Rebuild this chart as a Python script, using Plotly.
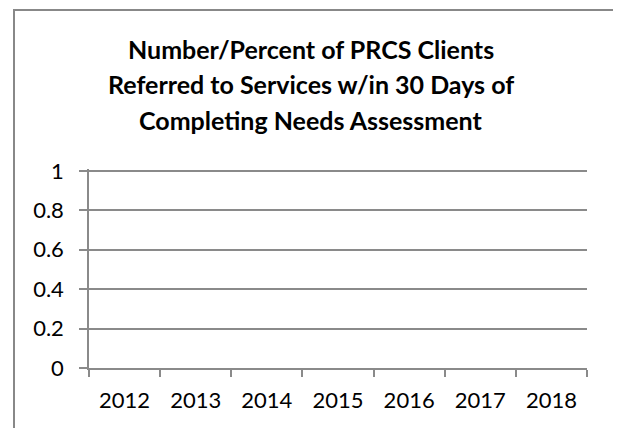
import plotly.graph_objects as go

# Data
years = ["2012", "2013", "2014", "2015", "2016", "2017", "2018"]
referred_pct = [None, None, None, None, None, None, None]
y_ticks = [0, 0.2, 0.4, 0.6, 0.8, 1]
y_tick_labels = ["0", "0.2", "0.4", "0.6", "0.8", "1"]
title_lines = [
    "Number/Percent of PRCS Clients",
    "Referred to Services w/in 30 Days of",
    "Completing Needs Assessment",
]

OFF = 8  # page body margin in the browser
W, H = 613, 420
Y_TOP = 1.01
L, R, T, B = 81, 34, 161, 60
plot_w = W - L - R
plot_h = H - T - B


def px_x(img_px):
    return (img_px - OFF - L) / plot_w


def paper_y(img_py):
    return (H - B - (img_py - OFF)) / plot_h


GRID = "#8a8a8a"
FONT = "Lato"

fig = go.Figure()
fig.add_trace(go.Bar(x=years, y=referred_pct, marker_color="#4f81bd", showlegend=False))

title_centers = [48.5, 83.5, 119.5]
for line, cy in zip(title_lines, title_centers):
    fig.add_annotation(
        text="<b>" + line + "</b>",
        xref="paper", yref="paper",
        x=px_x(311), y=paper_y(cy),
        xanchor="center", yanchor="middle",
        showarrow=False,
        font=dict(family=FONT, size=25, color="#000000"),
    )

# chart border
fig.add_shape(
    type="rect", xref="paper", yref="paper",
    x0=px_x(14), x1=px_x(615), y0=paper_y(470), y1=paper_y(10),
    line=dict(color="#888888", width=2),
    fillcolor="rgba(0,0,0,0)",
    layer="below",
)

fig.update_layout(
    width=W, height=H,
    margin=dict(l=L, r=R, t=T, b=B),
    paper_bgcolor="white",
    plot_bgcolor="white",
    font=dict(family=FONT, size=22, color="#000000"),
    showlegend=False,
)

fig.update_xaxes(
    type="category",
    categoryorder="array",
    categoryarray=years,
    range=[-0.5, len(years) - 0.5],
    tickson="boundaries",
    ticks="outside",
    ticklen=7,
    tickwidth=1.5,
    tickcolor=GRID,
    showline=True,
    linecolor=GRID,
    linewidth=1.5,
    showgrid=False,
    zeroline=False,
    ticklabelstandoff=12,
    tickfont=dict(family=FONT, size=22, color="#000000"),
)

fig.update_yaxes(
    range=[0, Y_TOP],
    tickvals=y_ticks,
    ticktext=y_tick_labels,
    ticks="outside",
    ticklen=8,
    tickwidth=1.5,
    tickcolor=GRID,
    showline=True,
    linecolor=GRID,
    linewidth=1.5,
    showgrid=True,
    gridcolor=GRID,
    gridwidth=1.5,
    zeroline=False,
    ticklabelstandoff=11,
    tickfont=dict(family=FONT, size=22, color="#000000"),
)

fig.write_html("out.html")
